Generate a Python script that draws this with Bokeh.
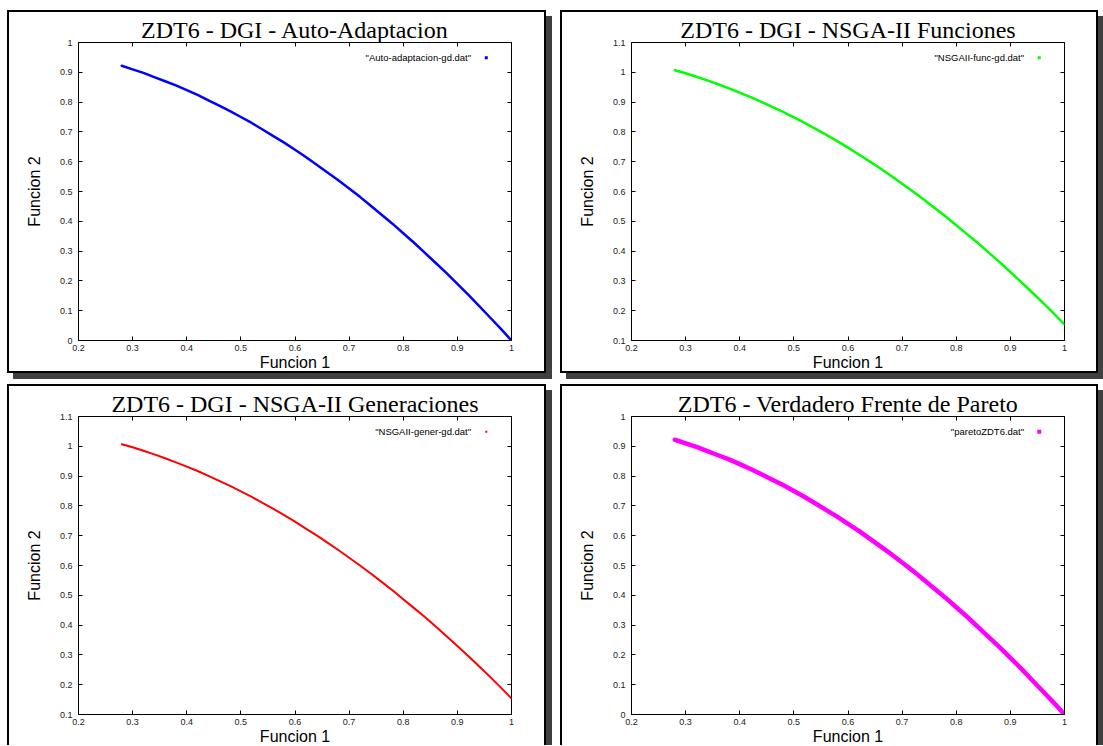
from bokeh.plotting import figure
from bokeh.layouts import column, row
from bokeh.models import (LinearAxis, FixedTicker, CustomJSTickFormatter, Label,
                          BoxAnnotation, Range1d, ColumnDataSource)
from bokeh.embed import file_html
from bokeh.resources import INLINE

# ---------------- data ----------------
F1 = [0.28, 0.30, 0.32, 0.34, 0.36, 0.38, 0.40, 0.42, 0.44, 0.46, 0.48,
      0.50, 0.52, 0.54, 0.56, 0.58, 0.60, 0.62, 0.64, 0.66, 0.68, 0.70,
      0.72, 0.74, 0.76, 0.78, 0.80, 0.82, 0.84, 0.86, 0.88, 0.90, 0.92,
      0.94, 0.96, 0.98, 1.00]

AUTO_F2 = [0.922, 0.910, 0.898, 0.884, 0.870, 0.856, 0.840, 0.824, 0.806, 0.788, 0.770,
           0.750, 0.730, 0.708, 0.686, 0.664, 0.640, 0.616, 0.590, 0.564, 0.538, 0.510,
           0.482, 0.452, 0.422, 0.392, 0.360, 0.328, 0.294, 0.260, 0.226, 0.190, 0.154,
           0.116, 0.078, 0.040, 0.000]

FUNC_F2 = [1.007, 0.997, 0.985, 0.973, 0.960, 0.946, 0.932, 0.917, 0.901, 0.884, 0.867,
           0.849, 0.830, 0.810, 0.790, 0.769, 0.747, 0.724, 0.701, 0.677, 0.652, 0.626,
           0.600, 0.573, 0.545, 0.517, 0.487, 0.457, 0.427, 0.395, 0.363, 0.330, 0.296,
           0.262, 0.227, 0.191, 0.154]

GENER_F2 = [1.007, 0.997, 0.985, 0.973, 0.960, 0.946, 0.932, 0.917, 0.901, 0.884, 0.867,
            0.849, 0.830, 0.810, 0.790, 0.769, 0.747, 0.724, 0.701, 0.677, 0.652, 0.626,
            0.600, 0.573, 0.545, 0.517, 0.487, 0.457, 0.427, 0.395, 0.363, 0.330, 0.296,
            0.262, 0.227, 0.191, 0.154]

PARETO_F2 = [0.922, 0.910, 0.898, 0.884, 0.870, 0.856, 0.840, 0.824, 0.806, 0.788, 0.770,
             0.750, 0.730, 0.708, 0.686, 0.664, 0.640, 0.616, 0.590, 0.564, 0.538, 0.510,
             0.482, 0.452, 0.422, 0.392, 0.360, 0.328, 0.294, 0.260, 0.226, 0.190, 0.154,
             0.116, 0.078, 0.040, 0.000]

X_TICKS = [0.2, 0.3, 0.4, 0.5, 0.6, 0.7, 0.8, 0.9, 1.0]
Y_TICKS_A = [0.0, 0.1, 0.2, 0.3, 0.4, 0.5, 0.6, 0.7, 0.8, 0.9, 1.0]
Y_TICKS_B = [0.1, 0.2, 0.3, 0.4, 0.5, 0.6, 0.7, 0.8, 0.9, 1.0, 1.1]

TITLES = ["ZDT6 - DGI - Auto-Adaptacion",
          "ZDT6 - DGI - NSGA-II Funciones",
          "ZDT6 - DGI - NSGA-II Generaciones",
          "ZDT6 - Verdadero Frente de Pareto"]
LEGENDS = ['"Auto-adaptacion-gd.dat"',
           '"NSGAII-func-gd.dat"',
           '"NSGAII-gener-gd.dat"',
           '"paretoZDT6.dat"']
COLORS = ["#0000ff", "#00ff00", "#ff0000", "#ff00ff"]
X_LABEL = "Funcion 1"
Y_LABEL = "Funcion 2"

# ---------------- styling ----------------
FRAME_W, FRAME_H = 429, 294
SANS = "Liberation Sans"
SERIF = "Liberation Serif"
TICK_FMT = "return Number(tick.toFixed(1)).toString();"
EMPTY_FMT = "return '';"


def make_axis(ticks, label=None, show_labels=True):
    ax = LinearAxis(ticker=FixedTicker(ticks=ticks),
                    formatter=CustomJSTickFormatter(code=TICK_FMT if show_labels else EMPTY_FMT))
    ax.axis_line_color = None
    ax.major_tick_in = 4
    ax.major_tick_out = 0
    ax.minor_tick_in = 0
    ax.minor_tick_out = 0
    ax.major_tick_line_color = "black"
    ax.major_tick_line_width = 1
    if show_labels:
        ax.major_label_text_font = SANS
        ax.major_label_text_font_size = "9px"
        ax.major_label_text_color = "#222222"
    else:
        ax.major_label_text_font_size = "1px"
        ax.major_label_standoff = 0
    if label is not None:
        ax.axis_label = label
        ax.axis_label_text_font = SANS
        ax.axis_label_text_font_size = "16px"
        ax.axis_label_text_font_style = "normal"
        ax.axis_label_text_color = "black"
    return ax


def panel(title, f2, color, lw, msize, legend, y_rng, y_ticks, left_col):
    y0, y1 = y_rng
    x0, x1 = 0.2, 1.0
    p = figure(width=535 if left_col else 534, height=359,
               x_range=Range1d(x0, x1), y_range=Range1d(y0, y1),
               output_backend="svg", toolbar_location=None,
               x_axis_type=None, y_axis_type=None,
               min_border_left=69,
               min_border_right=37 if left_col else 36,
               min_border_top=30, min_border_bottom=35,
               title=title)
    p.title.text_font = SERIF
    p.title.text_font_size = "24px"
    p.title.text_font_style = "normal"
    p.title.text_color = "black"
    p.title.align = "center"
    p.title.standoff = 0
    p.xgrid.visible = False
    p.ygrid.visible = False
    p.outline_line_color = "black"
    p.outline_line_width = 1
    p.background_fill_color = "white"
    p.border_fill_color = "white"

    bx = make_axis(X_TICKS, X_LABEL)
    bx.major_label_standoff = 4
    bx.axis_label_standoff = 0
    p.add_layout(bx, "below")
    ly = make_axis(y_ticks, Y_LABEL)
    ly.major_label_standoff = 6
    ly.axis_label_standoff = 14
    p.add_layout(ly, "left")
    p.add_layout(make_axis(X_TICKS, show_labels=False), "above")
    p.add_layout(make_axis(y_ticks, show_labels=False), "right")

    src = ColumnDataSource(dict(f1=F1, f2=f2))
    p.line(x="f1", y="f2", source=src, line_color=color, line_width=lw,
           line_join="round", line_cap="round")

    # key (text then sample, gnuplot style)
    ppx = FRAME_W / (x1 - x0)
    ppy = FRAME_H / (y1 - y0)
    ky = y1 - 15 / ppy
    p.add_layout(Label(x=x1 - 40 / ppx, y=ky, text=legend, text_align="right",
                       text_baseline="middle", text_font=SANS,
                       text_font_size="9.5px", text_color="black"))
    kx = x1 - 25 / ppx
    h = msize / 2
    p.add_layout(BoxAnnotation(left=kx - h / ppx, right=kx + h / ppx,
                               bottom=ky - h / ppy, top=ky + h / ppy,
                               fill_color=color, fill_alpha=1.0, line_color=None))

    p.styles = {"box-sizing": "content-box",
                "border": "2px solid black",
                "box-shadow": "6px 6px 0px #404040"}
    return p


p1 = panel(TITLES[0], AUTO_F2, COLORS[0], 2.5, 3, LEGENDS[0], (0.0, 1.0), Y_TICKS_A, True)
p2 = panel(TITLES[1], FUNC_F2, COLORS[1], 2.5, 3, LEGENDS[1], (0.1, 1.1), Y_TICKS_B, False)
p3 = panel(TITLES[2], GENER_F2, COLORS[2], 2, 2, LEGENDS[2], (0.1, 1.1), Y_TICKS_B, True)
p4 = panel(TITLES[3], PARETO_F2, COLORS[3], 4.5, 4, LEGENDS[3], (0.0, 1.0), Y_TICKS_A, False)

layout = column(row(p1, p2, spacing=14), row(p3, p4, spacing=14), spacing=11,
                width=1096, height=735, margin=(10, 0, 0, 7),
                styles={"overflow": "hidden"})

open("out.html", "w").write(file_html(layout, INLINE))
